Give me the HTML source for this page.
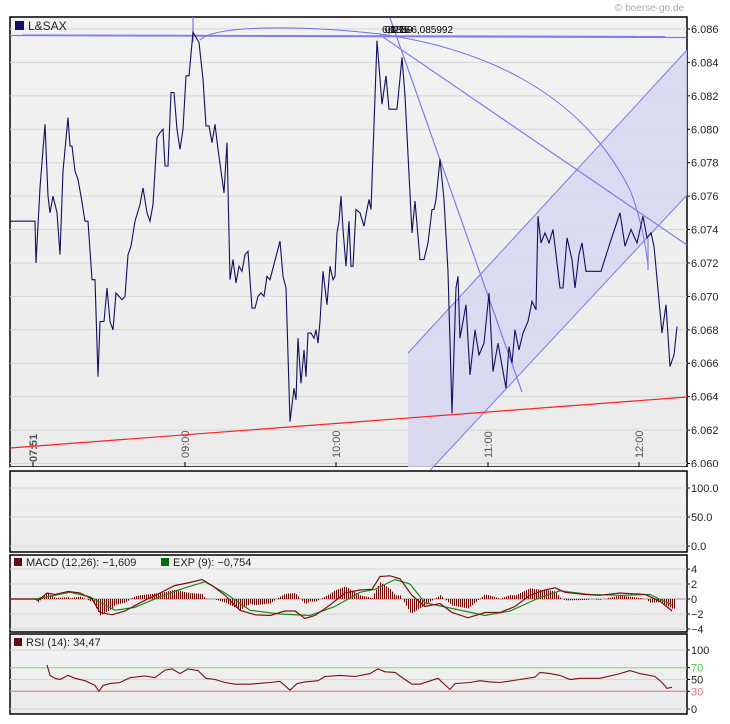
<!DOCTYPE html>
<html><head><meta charset="utf-8"><style>
body{margin:0;background:#fff;width:730px;height:724px;overflow:hidden;font-family:"Liberation Sans",sans-serif}
svg{display:block}
text{font-family:"Liberation Sans",sans-serif;font-size:11px;fill:#222}
</style></head><body>
<svg id="c" width="730" height="724">
<defs>
<linearGradient id="bg" x1="0" y1="0" x2="0" y2="1"><stop offset="0" stop-color="#f2f2f2"/><stop offset="1" stop-color="#ebebeb"/></linearGradient>
</defs>
<text x="684" y="11" text-anchor="end" style="fill:#aaa;font-size:10px">© boerse-go.de</text>
<g id="g"></g>
</svg>
<script>
// ---- data ----
const barIdx=[0,25,26,30,35,38,40,43,47,50,53,58,60,62,65,68,71,75,78,82,85,88,90,94,97,100,103,106,109,112,115,118,121,125,130,133,137,140,143,147,150,153,155,158,161,164,167,170,173,176,179,183,186,189,193,196,199,202,205,208,211,214,217,220,223,226,229,232,235,238,242,245,248,251,254,257,260,270,273,276,280,284,286,288,291,294,296,298,301,304,306,308,310,313,317,320,323,325,327,329,331,333,336,339,341,343,346,350,354,357,359,361,367,372,376,379,383,387,392,395,402,405,410,414,418,422,424,426,430,434,438,442,446,448,450,456,460,465,469,474,479,483,488,496,499,502,505,509,513,518,522,526,528,531,535,539,543,550,553,557,562,565,569,572,576,591,600,610,615,621,627,633,637,641,644,652,656,660,664,667];
const price=[6.0745,6.0745,6.072,6.0765,6.0803,6.076,6.075,6.076,6.075,6.0725,6.0775,6.0807,6.079,6.079,6.0775,6.077,6.076,6.0745,6.0745,6.071,6.071,6.0652,6.0685,6.0685,6.0705,6.0685,6.068,6.0702,6.070,6.0698,6.070,6.0725,6.073,6.0745,6.0755,6.0765,6.075,6.0745,6.0755,6.0795,6.0798,6.0800,6.0778,6.0778,6.0822,6.0822,6.080,6.0788,6.080,6.0832,6.0832,6.0858,6.0855,6.0852,6.083,6.0802,6.0802,6.0792,6.0803,6.0788,6.0775,6.0762,6.0792,6.071,6.0722,6.0708,6.0718,6.0715,6.0725,6.0727,6.0693,6.0693,6.070,6.0702,6.070,6.0712,6.071,6.0733,6.0712,6.0705,6.0625,6.0645,6.0638,6.0675,6.0648,6.0668,6.0652,6.0678,6.0678,6.0675,6.068,6.0672,6.0685,6.0715,6.0695,6.0718,6.071,6.0712,6.0738,6.0745,6.0760,6.074,6.0718,6.0745,6.0718,6.0718,6.0752,6.075,6.0742,6.0752,6.0758,6.0752,6.0853,6.0815,6.0832,6.0812,6.0812,6.0812,6.0843,6.082,6.0738,6.0757,6.0722,6.0722,6.0732,6.0752,6.0752,6.0758,6.0782,6.0758,6.0715,6.063,6.0705,6.0712,6.0675,6.0695,6.0653,6.068,6.0665,6.0672,6.0702,6.0655,6.0672,6.0645,6.067,6.066,6.068,6.0668,6.0678,6.0685,6.0697,6.0692,6.0748,6.0732,6.0738,6.0732,6.074,6.0705,6.0705,6.0735,6.0722,6.0705,6.0725,6.0732,6.0715,6.0715,6.0732,6.0750,6.073,6.074,6.0732,6.0748,6.0735,6.0738,6.073,6.0678,6.0695,6.0658,6.0665,6.0682];
const priceTicks=[6.060,6.062,6.064,6.066,6.068,6.070,6.072,6.074,6.076,6.078,6.080,6.082,6.084,6.086];
const timeTickIdx=[23,175,326,478,629];
const timeTickLbl=["07:51","09:00","10:00","11:00","12:00"];
const macdIdx=[0,25,28,37,45,58,70,82,90,102,115,130,150,165,180,192,202,215,230,245,260,275,285,295,305,320,335,350,362,370,380,390,402,415,430,442,458,475,490,505,520,535,545,555,575,590,610,635,650,662];
const macdVal=[0,0,-0.2,0.8,0.6,1.0,0.8,0,-1.8,-2.1,-1.6,-0.5,0.8,1.8,2.2,2.6,1.8,0.5,-1.5,-2.1,-2.2,-1.6,-1.6,-2.6,-2.2,-0.8,0.8,1.2,1.3,3.0,3.1,2.7,0.5,-1.0,-0.6,-1.8,-2.5,-1.8,-1.8,-1.0,0.5,1.2,1.5,0.9,0.6,0.5,0.8,0.6,-0.3,-1.6];
const sigIdx=[0,25,37,60,80,105,125,150,175,195,215,240,270,300,325,350,365,385,400,415,440,475,500,530,550,580,610,640,662];
const sigVal=[0,0,0.3,0.9,0.3,-1.5,-1.1,0.3,1.5,2.3,0.8,-1.5,-2.0,-2.2,-1.0,0.9,1.3,2.6,2.0,-0.5,-1.2,-2.2,-1.6,0.2,1.1,0.6,0.5,0.6,-0.8];
const rsiIdx=[37,40,45,50,58,65,75,85,89,93,100,110,120,135,145,155,162,170,178,188,196,205,215,225,240,260,270,280,287,295,308,315,330,345,360,368,375,385,395,402,410,428,440,445,460,470,480,490,510,525,530,540,550,560,570,590,610,620,630,645,652,657,662];
const rsiVal=[75,57,52,50,57,52,48,40,30,40,43,45,53,56,53,66,68,60,68,65,52,50,45,42,42,45,47,32,43,46,48,55,57,55,60,68,63,62,50,42,42,52,33,43,45,48,46,45,50,54,62,60,57,50,52,52,60,65,60,55,45,35,37];
const macdTicks=[4,2,0,-2,-4];
const rsiTicks=[100,70,50,30,0];
const stoTicks=[100,50,0];

// ---- scales ----
const g=document.getElementById('g');
const NS='http://www.w3.org/2000/svg';
function el(t,a,p){const e=document.createElementNS(NS,t);for(const k in a)e.setAttribute(k,a[k]);(p||g).appendChild(e);return e;}
const L=10,R=687;
const xS=i=>L+i;
const yP=v=>463.5-(v-6.060)/0.026*434.5;
const yM=v=>599-v*7.5;
const yR=v=>709-v*0.59;
const yS=v=>546-v*0.58;
function interp(xs,ys,x){if(x<=xs[0])return ys[0];for(let i=1;i<xs.length;i++){if(x<=xs[i]){const t=(x-xs[i-1])/(xs[i]-xs[i-1]);return ys[i-1]+t*(ys[i]-ys[i-1]);}}return ys[ys.length-1];}

function panel(name,y1,y2){const r=el('rect',{x:L,y:y1,width:R-L,height:y2-y1,fill:'url(#bg)',stroke:'#000','stroke-width':1.5});}
function axisTicks(ticks,yf,fmt,name,colors){ticks.forEach((v,i)=>{const y=yf(v);const gl=el('line',{x1:L,x2:R,y1:y,y2:y,stroke:'#d6d6d6'});
 el('line',{x1:R,x2:R+3,y1:y,y2:y,stroke:'#000'});
 const t=el('text',{x:R+4,y:y+4});t.textContent=fmt(v);if(colors&&colors[i])t.style.fill=colors[i];});}

// main panel
panel('price-panel',17,467);
axisTicks(priceTicks,yP,v=>v.toFixed(3),'price-axis');
timeTickIdx.forEach((ix,i)=>{const x=xS(ix);el('line',{x1:x,x2:x,y1:462,y2:467,stroke:'#000'});const t=el('text',{x:0,y:0,transform:`translate(${x+4},${i==0?462:458}) rotate(-90)`,style:'fill:#555;font-size:11px'+(i==0?';font-weight:bold':'')});t.textContent=timeTickLbl[i];});

// channel
const ch=el('polygon',{points:'408,353 687,50 687,195 408,494',fill:'#d4d6f0','fill-opacity':0.8});

el('rect',{x:10,y:467,width:720,height:30,fill:'#fff'});
const c1=el('line',{x1:408,y1:353,x2:687,y2:50,stroke:'#7a7cf0'});
const c2=el('line',{x1:408,y1:494,x2:687,y2:195,stroke:'#7a7cf0'});
// drawings
const drw=[['horizontal-line',23,35,665,36.5],['horizontal-line-2',10,35.5,687,37.5],['fan-line',380,35,687,245],['steep-line',390,18,522,392],['vertical-line',193,17,193,42],['small-mark',648,238,648,270]];
drw.forEach(d=>{const l=el('line',{x1:d[1],y1:d[2],x2:d[3],y2:d[4],stroke:'#7a7cf0','stroke-width':1.2});});
const arc=el('path',{d:'M200,40 C215,25 300,25 380,34 C480,48 580,90 630,190 C640,215 645,240 648,265',fill:'none',stroke:'#6e70ee'});
const rl=el('line',{x1:10,y1:448,x2:687,y2:397,stroke:'#ff2020','stroke-width':1.2});
['6,0859','01:16','02%-6,085992'].forEach((s,i)=>{const t=el('text',{x:382+i*3,y:33,style:'font-size:10px;fill:#000'});t.textContent=s;});
// price line
const pl=el('polyline',{points:barIdx.map((b,i)=>xS(b)+','+yP(price[i]).toFixed(1)).join(' '),fill:'none',stroke:'#101060','stroke-width':1.1});

// legend
const lr=el('rect',{x:15,y:21,width:9,height:9,fill:'#101060'});
const lt=el('text',{x:28,y:30,style:'font-size:12px'});lt.textContent='L&SAX';

// stochastic empty panel
panel('empty-indicator-panel',471,552);
axisTicks(stoTicks,yS,v=>v.toFixed(1),'indicator-axis');

// MACD
panel('macd-panel',555,632);
axisTicks(macdTicks,yM,v=>String(v).replace('-','−'),'macd-axis');
el('line',{x1:L,x2:R,y1:yM(0),y2:yM(0),stroke:'#999'});
for(let b=0;b<=664;b+=2){const d=interp(macdIdx,macdVal,b)-interp(sigIdx,sigVal,b);if(Math.abs(d)<0.05)continue;const x=xS(b)+0.5;const l=el('line',{x1:x,x2:x,y1:yM(0),y2:yM(d*1.6),stroke:'#7a0000','stroke-width':1});}
const sl=el('polyline',{points:sigIdx.map((b,i)=>xS(b)+','+yM(sigVal[i]).toFixed(1)).join(' '),fill:'none',stroke:'#1a8a1a','stroke-width':1.2});
const ml=el('polyline',{points:macdIdx.map((b,i)=>xS(b)+','+yM(macdVal[i]).toFixed(1)).join(' '),fill:'none',stroke:'#7a1010','stroke-width':1.2});
[[14,'#6b0c0c','MACD (12,26): −1,609'],[161,'#0a6a0a','EXP (9): −0,754']].forEach(a=>{const r=el('rect',{x:a[0],y:558,width:8,height:8,fill:a[1]});const t=el('text',{x:a[0]+12,y:566});t.textContent=a[2];});

// RSI
panel('rsi-panel',634,714);
axisTicks(rsiTicks,yR,v=>String(v),'rsi-axis',[null,'#4ad04a',null,'#f07070',null]);
const l70=el('line',{x1:L,x2:R,y1:yR(70),y2:yR(70),stroke:'#80e080'});
const l30=el('line',{x1:L,x2:R,y1:yR(30),y2:yR(30),stroke:'#f07070'});
const rl2=el('polyline',{points:rsiIdx.map((b,i)=>xS(b)+','+yR(rsiVal[i]).toFixed(1)).join(' '),fill:'none',stroke:'#7a1010','stroke-width':1.1});
const rs=el('rect',{x:14,y:638,width:8,height:8,fill:'#6b0c0c'});
const rt=el('text',{x:26,y:646});rt.textContent='RSI (14): 34,47';
</script>
</body></html>
